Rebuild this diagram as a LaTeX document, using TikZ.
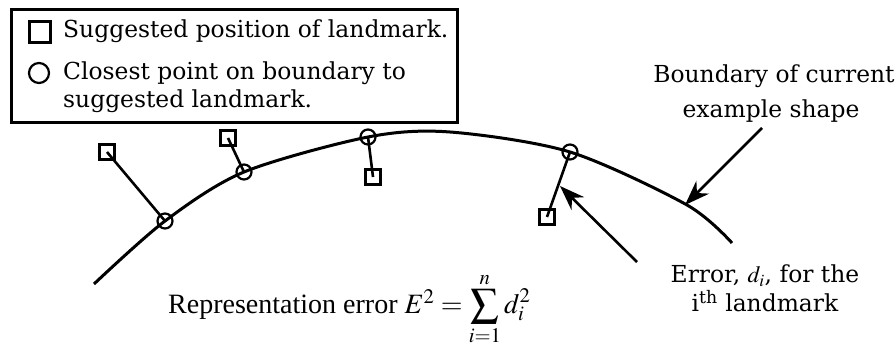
\documentclass[tikz,border=0pt]{standalone}
\usepackage{mathptmx}
\usepackage{fontspec}
\setmainfont{Liberation Serif}
\newfontfamily\keyfont{DejaVu Serif}
\usetikzlibrary{arrows.meta}

\begin{document}
\begin{tikzpicture}[x=1pt, y=-1pt,
    landmark/.style={draw, line width=2.4pt, minimum size=15pt, inner sep=0pt},
    nearest/.style={draw, circle, line width=2.2pt, minimum size=15pt, inner sep=0pt},
    pointer/.style={line width=2.6pt, -{Stealth[length=25pt, width=18pt]}},
    keytext/.style={font=\keyfont\fontsize{23.4}{28}\selectfont, inner sep=0pt}]
    \useasboundingbox (0,0) rectangle (896,352);
    \node[draw, line width=2.8pt, minimum width=446pt, minimum height=113pt, inner sep=0pt, anchor=north west] (legend) at (10,8) {};
    \node[landmark, minimum size=21pt] (keysq) at (40,32) {};
    \node[nearest, minimum size=20pt] (keyring) at (39,73) {};
    \node[keytext, anchor=base west] (key1) at (63,38) {Suggested position of landmark.};
    \node[keytext, anchor=base west] (key2) at (63,80) {Closest point on boundary to};
    \node[keytext, anchor=base west] (key3) at (63,108) {suggested landmark.};

    \draw[line width=3pt] plot[smooth] coordinates {(94,284) (165,221) (244,172) (368,137) (450,132) (570,152) (687,205) (732,243)};

    \foreach \n/\cx/\cy/\sx/\sy in {1/165/221/107/152, 2/244/172/228/138, 3/368/137/373/177, 4/570/152/547/217} {
      \node[nearest] (pt\n) at (\cx,\cy) {};
      \node[landmark] (sq\n) at (\sx,\sy) {};
      \draw[line width=2.6pt] (sq\n.center) -- (pt\n.center);
    }

    \node[keytext, anchor=base] (bnd1) at (774,83) {Boundary of current};
    \node[keytext, anchor=base] (bnd2) at (771,118) {example shape};
    \coordinate (bndtail) at (762,128);
    \coordinate (bndtip) at (685,205);
    \draw[pointer] (bndtail) -- (bndtip);

    \node[keytext, anchor=base] (err1) at (765,283) {Error, $d_i$, for the};
    \node[keytext, anchor=base] (err2) at (765,312) {i\textsuperscript{th} landmark};
    \coordinate (errtail) at (637,262);
    \coordinate (errtip) at (560,186);
    \draw[pointer] (errtail) -- (errtip);

    \node[anchor=base west, inner sep=0pt, font=\fontsize{28}{34}\selectfont] (formula) at (168,314) {Representation error $E^2 = \displaystyle\sum_{i=1}^{n} d_i^2$};
  \end{tikzpicture}
\end{document}
